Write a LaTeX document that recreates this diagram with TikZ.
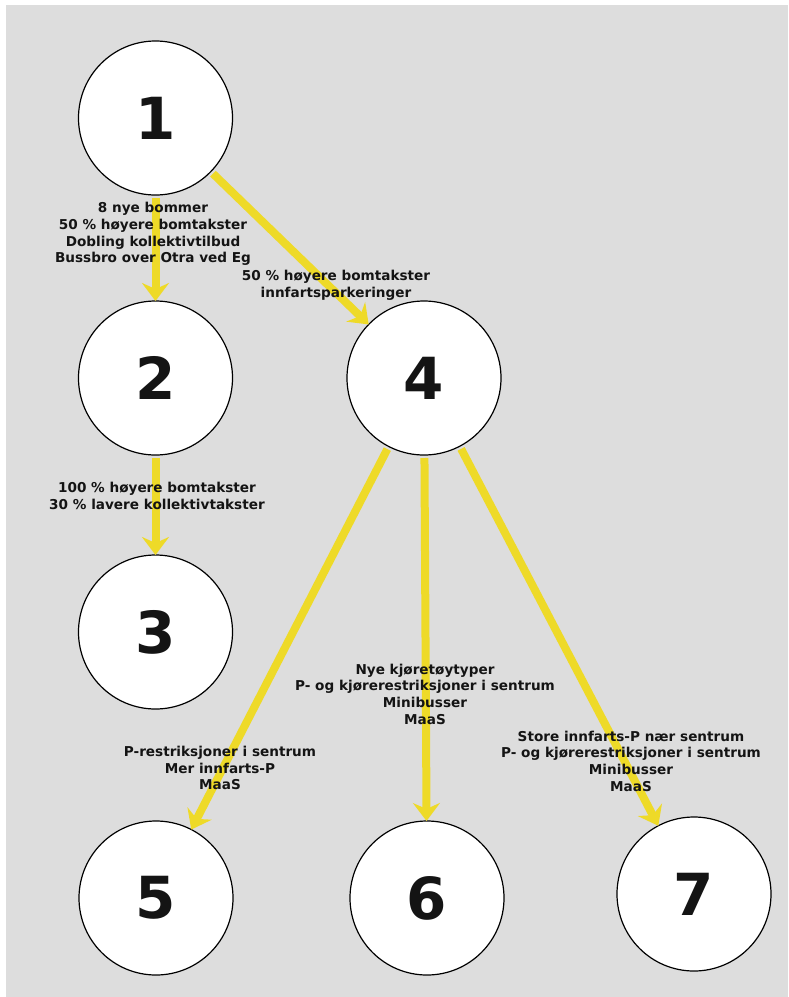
\documentclass[tikz,border=0pt]{standalone}
\usepackage{fontspec}
\setmainfont{DejaVu Sans}
\usetikzlibrary{arrows.meta}
\definecolor{bg}{RGB}{221,221,221}
\definecolor{ylw}{RGB}{238,218,40}
\definecolor{ink}{RGB}{20,20,20}
\tikzset{
  state/.style={circle, draw=black, line width=1.2pt, fill=white, minimum size=154pt,
    inner sep=0pt, outer sep=0pt, text=ink, font=\bfseries\fontsize{58}{58}\selectfont},
  conn/.style={draw=ylw, line width=8pt, -{Stealth[length=18pt,width=27pt,inset=6pt]},
    shorten <=3pt},
  lbl/.style={align=center, font=\bfseries\fontsize{13.6}{16.7}\selectfont, text=ink, inner sep=0pt}
}
\begin{document}
\begin{tikzpicture}[x=1pt,y=-1pt]
\useasboundingbox (0,0) rectangle (788,997);
\fill[white] (0,0) rectangle (788,997);
\fill[bg] (6,5) rectangle (788,997);

\node[state] (n1) at (155.5,118) {1};
\node[state] (n2) at (155.5,378) {2};
\node[state] (n3) at (155.5,632) {3};
\node[state] (n4) at (424,378) {4};
\node[state] (n5) at (156,898) {5};
\node[state] (n6) at (427,898) {6};
\node[state] (n7) at (694,894) {7};

\draw[conn] (n1) -- (n2);
\draw[conn] (n1) -- (n4);
\draw[conn] (n2) -- (n3);
\draw[conn] (n4) -- (n5);
\draw[conn] (n4) -- (n6);
\draw[conn] (n4) -- (n7);

\node[lbl] (l12) at (153,234) {8 nye bommer\\50 \% høyere bomtakster\\Dobling kollektivtilbud\\Bussbro over Otra ved Eg};
\node[lbl] (l14) at (336,285) {50 \% høyere bomtakster\\innfartsparkeringer};
\node[lbl] (l23) at (157,496) {100 \% høyere bomtakster\\30 \% lavere kollektivtakster};
\node[lbl] (l46) at (425,694) {Nye kjøretøytyper\\P- og kjørerestriksjoner i sentrum\\Minibusser\\MaaS};
\node[lbl] (l47) at (631,761) {Store innfarts-P nær sentrum\\P- og kjørerestriksjoner i sentrum\\Minibusser\\MaaS};
\node[lbl] (l45) at (220,768) {P-restriksjoner i sentrum\\Mer innfarts-P\\MaaS};
\end{tikzpicture}
\end{document}
